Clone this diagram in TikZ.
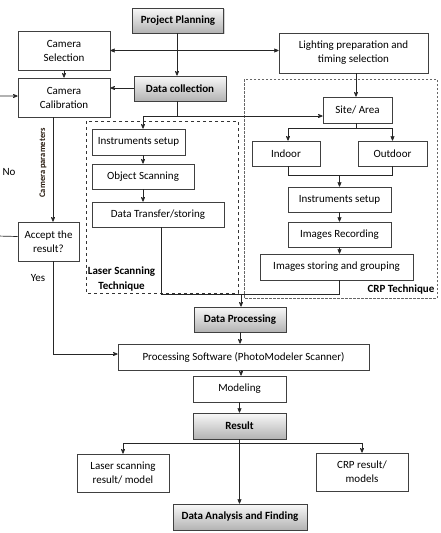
\documentclass[tikz,border=0pt]{standalone}
\usepackage{fontspec}
\setmainfont{Carlito}
\usepackage{xcolor}
\usepackage{tikz}
\usetikzlibrary{shapes,arrows,shadows,positioning}
\tikzset{>=stealth'}

\begin{document}
\begin{tikzpicture}[x=1pt,y=-1pt,
                          box/.style={draw=black!75, line width=0.7pt, fill=white, inner sep=0pt, align=center, font=\fontsize{11}{14}\selectfont},
                          gbox/.style={box, top color=gray!5, bottom color=gray!60, font=\fontsize{11}{14}\selectfont\bfseries,
                                       drop shadow={opacity=0.35, shadow xshift=1.2pt, shadow yshift=-1.2pt}},
                          link/.style={line width=0.7pt, black!85},
                          frame/.style={line width=0.7pt, dashed, black!80},
                         ]

\useasboundingbox (0,0) rectangle (441,533);

\draw[frame] (86,121) rectangle (238,293);
\draw[frame, black!60, dash pattern=on 2.5pt off 1.5pt] (244,79) rectangle (437,298);

\node[gbox, minimum width=91pt, minimum height=25pt] (pp) at (178,20.5) {Project Planning};
\node[box, minimum width=92pt, minimum height=39pt] (camsel) at (64,50.5) {Camera\\Selection};
\node[box, minimum width=92pt, minimum height=39pt] (camcal) at (64,97.5) {Camera\\Calibration};
\node[gbox, minimum width=92pt, minimum height=25pt] (datacol) at (180,88.5) {Data collection};
\node[box, minimum width=149pt, minimum height=40pt] (light) at (353.5,53) {Lighting preparation and\\timing selection};

\node[box, minimum width=69pt, minimum height=26pt] (site) at (357.5,110) {Site/ Area};
\node[box, minimum width=68pt, minimum height=25pt] (indoor) at (286,153.5) {Indoor};
\node[box, minimum width=69pt, minimum height=25pt] (outdoor) at (392.5,153.5) {Outdoor};
\node[box, minimum width=103pt, minimum height=25pt] (crpsetup) at (339.5,199.5) {Instruments setup};
\node[box, minimum width=103pt, minimum height=25pt] (imrec) at (339.5,234.5) {Images Recording};
\node[box, minimum width=153pt, minimum height=26pt] (imstore) at (336.5,267) {Images storing and grouping};

\node[box, minimum width=93pt, minimum height=26pt] (lsetup) at (138.5,142) {Instruments setup};
\node[box, minimum width=102pt, minimum height=25pt] (objscan) at (143,176.5) {Object Scanning};
\node[box, minimum width=132pt, minimum height=25pt] (transfer) at (158,214.5) {Data Transfer/storing};

\node[box, minimum width=61pt, minimum height=39pt] (accept) at (48.5,241.5) {Accept the\\result?};

\node[gbox, minimum width=92pt, minimum height=25pt] (dproc) at (240,319.5) {Data Processing};
\node[box, minimum width=251pt, minimum height=26pt] (psoft) at (243.5,357) {Processing Software (PhotoModeler Scanner)};
\node[box, minimum width=93pt, minimum height=26pt] (model) at (239.5,389) {Modeling};
\node[gbox, minimum width=93pt, minimum height=26pt] (result) at (239.5,426) {Result};
\node[box, minimum width=92pt, minimum height=38pt] (lres) at (123,473) {Laser scanning\\result/ model};
\node[box, minimum width=92pt, minimum height=38pt] (cres) at (362,472) {CRP result/\\models};
\node[gbox, minimum width=134pt, minimum height=26pt] (analysis) at (240,517) {Data Analysis and Finding};

\node[align=center, font=\fontsize{11}{15}\selectfont\bfseries] (laserlbl) at (121.5,279.5) {Laser Scanning\\Technique};
\node[font=\fontsize{11}{13}\selectfont\bfseries] (crplbl) at (401,290) {CRP Technique};
\node[rotate=90, font=\fontsize{8.5}{10}\selectfont\bfseries, text=black!80!brown] (campar) at (43,163) {Camera parameters};
\node[font=\fontsize{11}{13}\selectfont] (nolbl) at (9,172) {No};
\node[font=\fontsize{11}{13}\selectfont] (yeslbl) at (38,278) {Yes};

\coordinate (j1) at (177,116);
\coordinate (j3) at (339.5,175);
\coordinate (j4) at (241,294);

\draw[link,->] (pp.south -| 177,0) -- (datacol.north -| 177,0);
\draw[link,<->] (camsel.east) -- (camsel.east -| light.west);
\draw[link,->] (datacol.west |- 0,88) -- (camcal.east |- 0,88);
\draw[link,->] (camsel.south) -- (camcal.north);

\draw[link] (datacol.south -| j1) -- (j1);
\draw[link,->] (j1) -- (143,116) -- ([xshift=4.5pt]lsetup.north);
\draw[link,->] (j1) -- (j1 -| site.west);
\draw[link,->] ([xshift=2.5pt]light.south) -- ([xshift=-1.5pt]site.north);
\draw[link,->] ([xshift=-1.5pt]site.south) -- ++(0,5) -| ([xshift=2pt]indoor.north);
\draw[link,->] ([xshift=-1.5pt]site.south) -- ++(0,5) -| (outdoor.north);
\draw[link] ([xshift=2pt]indoor.south) -- ++(0,9) -| (outdoor.south);
\draw[link,->] (j3) -- (crpsetup.north);
\draw[link,->] (crpsetup.south) -- (imrec.north);
\draw[link,->] (imrec.south) -- (imrec.south |- imstore.north);

\draw[link,->] (objscan.north |- lsetup.south) -- (objscan.north);
\draw[link,->] (objscan.south) -- (objscan.south |- transfer.north);

\draw[link] ([xshift=3pt]transfer.south) |- (j4);
\draw[link] ([xshift=2.5pt]imstore.south) |- (j4);
\draw[link,->] (j4) -- (j4 |- dproc.north);

\draw[link,->] ([xshift=4.5pt]camcal.south -| accept.north) -- ([xshift=4.5pt]accept.north);
\draw[link,->] ([yshift=5pt]accept.west) -- (-3,236) |- ([yshift=1.5pt]camcal.west);
\draw[link,->] ([xshift=4.5pt]accept.south) |- ([yshift=3pt]psoft.west);

\draw[link,->] (dproc.south) -- (dproc.south |- psoft.north);
\draw[link,->] ([xshift=1.5pt]model.north |- psoft.south) -- ([xshift=1.5pt]model.north);
\draw[link,->] (model.south) -- (result.north);
\draw[link,->] (result.south) -- ++(0,4) -| (lres.north);
\draw[link,->] (result.south) -- ++(0,4) -| (cres.north);
\draw[link,->] (result.south) -- (result.south |- analysis.north);

\end{tikzpicture}
\end{document}
